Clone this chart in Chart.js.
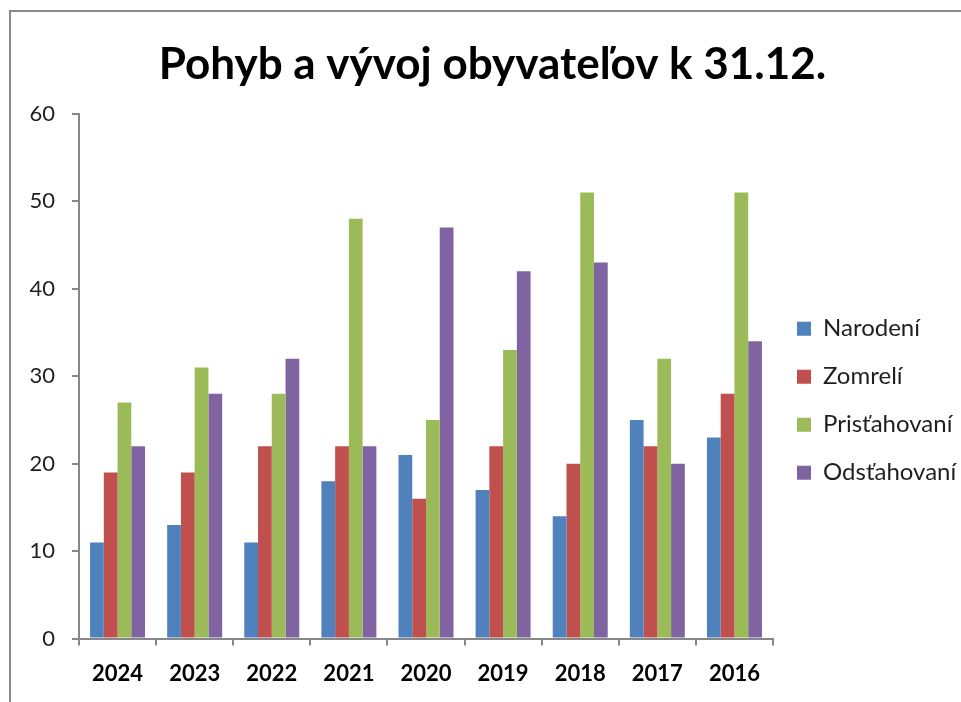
<!DOCTYPE html>
<html lang="sk">
<head>
<meta charset="utf-8">
<title>Pohyb a vývoj obyvateľov</title>
<script src="https://cdn.jsdelivr.net/npm/chart.js@4.4.1/dist/chart.umd.min.js"></script>
<style>
    html, body { margin: 0; padding: 0; background: #fff; overflow: hidden; }
    /* sivy ramik okolo grafu */
    #ramik { position: absolute; left: 9px; top: 10px; width: 1000px; height: 1000px; border: 2px solid #8a8a8a; }
    #graf { position: absolute; left: 0; top: 0; }
</style>
</head>
<body>
<div id="ramik"></div>
<canvas id="graf" width="990" height="702"></canvas>
<script>
// Data z grafu
var roky = ['2024', '2023', '2022', '2021', '2020', '2019', '2018', '2017', '2016'];
var narodeni = [11, 13, 11, 18, 21, 17, 14, 25, 23];
var zomreli = [19, 19, 22, 22, 16, 22, 20, 22, 28];
var pristahovani = [27, 31, 28, 48, 25, 33, 51, 32, 51];
var odstahovani = [22, 28, 32, 22, 47, 42, 43, 20, 34];
var osY = [0, 10, 20, 30, 40, 50, 60];

var sivaOs = '#878787';

var ctx = document.getElementById('graf').getContext('2d');
var graf = new Chart(ctx, {
    type: 'bar',
    data: {
        labels: roky,
        datasets: [{
            label: 'Narodení',
            data: narodeni,
            backgroundColor: '#4F81BD',
            borderWidth: 0
        },
        {
            label: 'Zomrelí',
            data: zomreli,
            backgroundColor: '#C0504D',
            borderWidth: 0
        },
        {
            label: 'Prisťahovaní',
            data: pristahovani,
            backgroundColor: '#9BBB59',
            borderWidth: 0
        },
        {
            label: 'Odsťahovaní',
            data: odstahovani,
            backgroundColor: '#8064A2',
            borderWidth: 0
        }]
    },
    options: {
        responsive: false,
        animation: false,
        layout: {
            padding: { top: 0, left: 26, right: 31, bottom: 0 }
        },
        datasets: {
            bar: { categoryPercentage: 0.713, barPercentage: 1 }
        },
        plugins: {
            title: {
                display: true,
                text: 'Pohyb a vývoj obyvateľov k 31.12.',
                color: '#000',
                font: { family: 'Lato', size: 44, weight: 'bold', lineHeight: 1.2 },
                padding: { top: 38, bottom: 23 }
            },
            legend: {
                position: 'right',
                fullSize: false,
                maxWidth: 186,
                labels: {
                    boxWidth: 14,
                    boxHeight: 14,
                    padding: 24,
                    color: '#1f1f1f',
                    font: { family: 'Lato', size: 24 }
                },
                // prazdny titulok len posunie polozky legendy nizsie
                title: {
                    display: true,
                    text: ' ',
                    font: { size: 10, lineHeight: 1 },
                    padding: { top: 0, bottom: 39 }
                }
            },
            tooltip: { enabled: false }
        },
        scales: {
            x: {
                grid: { drawOnChartArea: false, tickLength: 7, color: sivaOs, lineWidth: 2, offset: true },
                border: { color: sivaOs, width: 2 },
                ticks: {
                    color: '#000',
                    padding: 15,
                    font: { family: 'Lato', size: 22, weight: 'bold' }
                }
            },
            y: {
                min: osY[0],
                max: osY[osY.length - 1],
                grid: { drawOnChartArea: false, tickLength: 7, color: sivaOs, lineWidth: 2 },
                border: { color: sivaOs, width: 2 },
                ticks: {
                    stepSize: osY[1] - osY[0],
                    padding: 17,
                    color: '#1f1f1f',
                    font: { family: 'Lato', size: 22 }
                },
                afterFit: function(scale) {
                    scale.width = 53;
                }
            }
        }
    }
});
</script>
</body>
</html>
